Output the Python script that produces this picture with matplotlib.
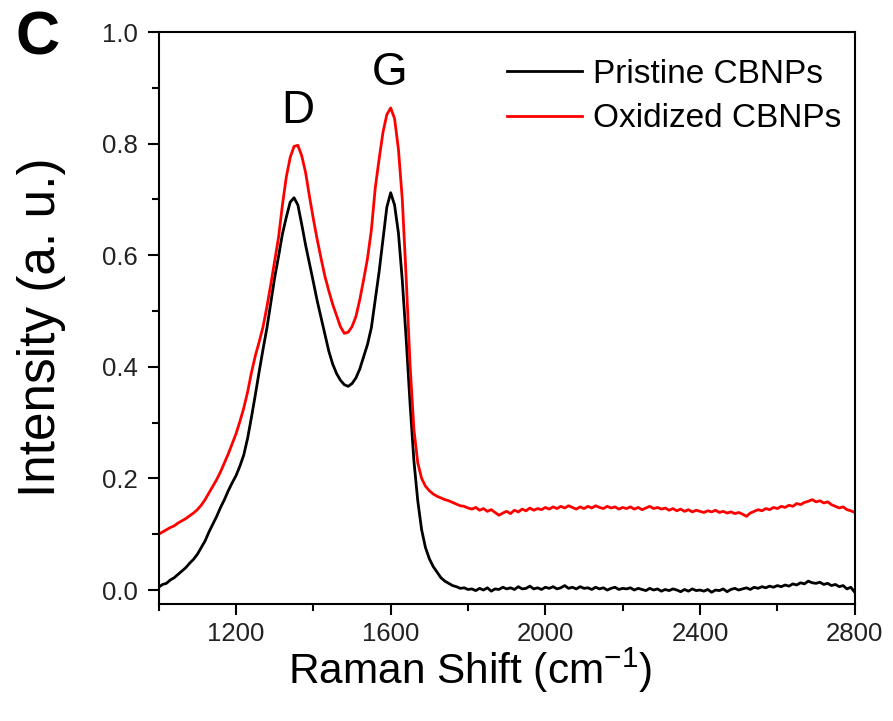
import numpy as np
import matplotlib
matplotlib.use("Agg")
import matplotlib.pyplot as plt
from matplotlib.ticker import MultipleLocator

plt.rcParams["font.family"] = ["Liberation Sans", "DejaVu Sans"]
plt.rcParams["mathtext.fontset"] = "custom"
plt.rcParams["mathtext.rm"] = "Liberation Sans"
plt.rcParams["mathtext.default"] = "regular"

# Raman shift grid (cm-1), 10 cm-1 steps
raman_shift = np.arange(1000, 2801, 10)

pristine = [
    0.005, 0.010, 0.012, 0.018, 0.022, 0.028, 0.034, 0.040, 0.048, 0.055,
    0.064, 0.076, 0.088, 0.104, 0.118, 0.132, 0.148, 0.162, 0.178, 0.192,
    0.205, 0.222, 0.242, 0.272, 0.310, 0.350, 0.392, 0.432, 0.470, 0.515,
    0.560, 0.598, 0.638, 0.668, 0.695, 0.703, 0.690, 0.655, 0.618, 0.585,
    0.552, 0.518, 0.488, 0.458, 0.428, 0.405, 0.388, 0.376, 0.368, 0.365,
    0.370, 0.380, 0.396, 0.418, 0.440, 0.470, 0.520, 0.570, 0.628, 0.686,
    0.712, 0.690, 0.640, 0.555, 0.450, 0.335, 0.232, 0.160, 0.108, 0.076,
    0.056, 0.042, 0.032, 0.022, 0.016, 0.012, 0.008, 0.006, 0.003, 0.004,
    0.001,
    0.002, -0.001, 0.003, 0.000, 0.004, -0.002, 0.002, 0.001, 0.005, 0.002,
    0.004, 0.001, 0.006, 0.002, 0.003, 0.007, 0.002, 0.004, 0.001, 0.005,
    0.003, 0.006, 0.002, 0.004, 0.008, 0.003, 0.005, 0.002, 0.006, 0.003,
    0.004, 0.001, 0.005, 0.002, 0.004, 0.000, 0.003, 0.005, 0.001, 0.003,
    0.002, 0.004, 0.000, 0.003, 0.001, -0.001, 0.003, 0.000, 0.002, -0.002,
    0.001, -0.001, 0.002, 0.000, -0.003, 0.001, -0.002, 0.002, -0.001, 0.000,
    -0.002, 0.001, -0.004, 0.000, -0.001, 0.002, -0.003, 0.001, 0.003, 0.000,
    0.002, 0.004, 0.001, 0.005, 0.003, 0.006, 0.004, 0.007, 0.005, 0.008,
    0.006, 0.009, 0.007, 0.011, 0.009, 0.013, 0.011, 0.016, 0.013, 0.012,
    0.014, 0.010, 0.012, 0.008, 0.010, 0.006, 0.008, 0.002, 0.005, -0.004,
]

oxidized = [
    0.100, 0.104, 0.108, 0.112, 0.115, 0.120, 0.124, 0.128, 0.133, 0.138,
    0.144, 0.152, 0.162, 0.174, 0.186, 0.198, 0.212, 0.228, 0.244, 0.262,
    0.280, 0.302, 0.326, 0.355, 0.390, 0.420, 0.445, 0.472, 0.508, 0.548,
    0.590, 0.632, 0.690, 0.740, 0.775, 0.795, 0.797, 0.778, 0.748, 0.705,
    0.665, 0.628, 0.594, 0.562, 0.536, 0.512, 0.492, 0.472, 0.460, 0.462,
    0.472, 0.490, 0.520, 0.556, 0.594, 0.645, 0.720, 0.772, 0.820, 0.852,
    0.864, 0.845, 0.790, 0.700, 0.560, 0.405, 0.288, 0.228, 0.200, 0.186,
    0.178,
    0.172, 0.168, 0.165, 0.162, 0.160, 0.157, 0.154, 0.151, 0.150, 0.147,
    0.145, 0.148, 0.143, 0.146, 0.141, 0.144, 0.139, 0.134, 0.138, 0.141,
    0.137, 0.143, 0.140, 0.145, 0.142, 0.147, 0.143, 0.146, 0.144, 0.148,
    0.145, 0.149, 0.146, 0.150, 0.147, 0.151, 0.148, 0.145, 0.149, 0.146,
    0.150, 0.147, 0.151, 0.148, 0.146, 0.150, 0.147, 0.149, 0.145, 0.148,
    0.146, 0.149, 0.145, 0.148, 0.144, 0.147, 0.150, 0.146, 0.148, 0.145,
    0.147, 0.143, 0.146, 0.142, 0.145, 0.141, 0.144, 0.140, 0.143, 0.141,
    0.139, 0.142, 0.140, 0.143, 0.139, 0.141, 0.138, 0.140, 0.137, 0.139,
    0.136, 0.132, 0.138, 0.141, 0.144, 0.142, 0.146, 0.144, 0.148, 0.146,
    0.150, 0.148, 0.152, 0.150, 0.155, 0.153, 0.157, 0.159, 0.162, 0.158,
    0.160, 0.156, 0.158, 0.153, 0.150, 0.147, 0.149, 0.144, 0.142, 0.139,
]

peak_labels = ["D", "G"]
peak_pos = [1360, 1598]
peak_height = [0.858, 0.927]

fig = plt.figure(figsize=(8.93, 7.21), dpi=100)
ax = fig.add_axes([0.1777, 0.1623, 0.7794, 0.7933])

ax.plot(raman_shift, pristine, color="black", lw=2.0, label="Pristine CBNPs")
ax.plot(raman_shift, oxidized, color="#ff0000", lw=2.0, label="Oxidized CBNPs")

for lab, xp, yp in zip(peak_labels, peak_pos, peak_height):
    ax.text(xp, yp, lab, fontsize=33, ha="center", va="center")

ax.set_xlim(1000, 2800)
ax.set_ylim(-0.025, 1.0)
ax.xaxis.set_major_locator(MultipleLocator(400))
ax.xaxis.set_minor_locator(MultipleLocator(200))
ax.yaxis.set_major_locator(MultipleLocator(0.2))
ax.yaxis.set_minor_locator(MultipleLocator(0.1))
ax.set_xticks([1200, 1600, 2000, 2400, 2800])
ax.yaxis.set_major_formatter(matplotlib.ticker.FormatStrFormatter("%.1f"))

for s in ax.spines.values():
    s.set_linewidth(1.5)
ax.tick_params(which="both", direction="out", width=1.5, labelsize=18.5,
               labelcolor="#222222", top=False, right=False)
ax.tick_params(axis="x", which="major", length=8, pad=5)
ax.tick_params(axis="y", which="major", length=8, pad=7)
ax.tick_params(which="minor", length=5)

ax.set_xlabel("Raman Shift (cm$^{-1}$)", fontsize=30.5)
ax.set_ylabel("Intensity (a. u.)", fontsize=37)
ax.xaxis.set_label_coords(0.447, -0.072)
ax.yaxis.set_label_coords(-0.133, 0.484)

ax.legend(loc="upper left", bbox_to_anchor=(0.501, 0.953), frameon=False, fontsize=24,
          handlelength=2.25, handletextpad=0.33, borderpad=0, borderaxespad=0,
          labelspacing=0.40)

fig.text(0.042, 0.946, "C", fontsize=44, fontweight="bold", ha="center", va="center")

fig.savefig("out.png", dpi=100)
